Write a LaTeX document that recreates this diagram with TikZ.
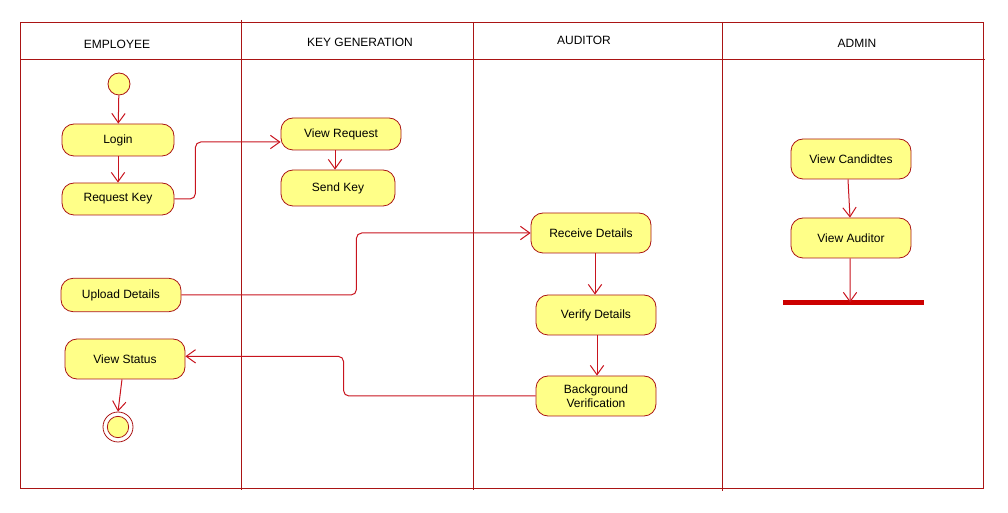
\documentclass[tikz,border=0pt]{standalone}
\usepackage{fontspec}
\setmainfont{Liberation Sans}
\usetikzlibrary{arrows.meta}
\definecolor{lanec}{RGB}{170,20,20}
\definecolor{linec}{RGB}{200,20,30}
\definecolor{yf}{RGB}{255,255,136}
\definecolor{barc}{RGB}{204,0,0}
\tikzset{
  act/.style={rectangle, rounded corners=9pt, draw=lanec, fill=yf, line width=0.6pt,
    font=\fontsize{9}{10.5}\selectfont, inner sep=0pt, align=center,
    minimum width=90pt, minimum height=30pt},
  arr/.style={draw=linec, line width=0.75pt, -{Straight Barb[length=7pt,width=10pt]}},
  lane/.style={draw=lanec, line width=0.7pt},
  hdr/.style={font=\fontsize{9}{10.5}\selectfont}
}
\begin{document}
\begin{tikzpicture}[x=0.75pt,y=-0.75pt]
\useasboundingbox (0,0) rectangle (1008,513);
% swimlanes
\draw[lane] (20,22) rectangle (983,488);
\draw[lane] (20,59) -- (985,59);
\draw[lane] (241,20) -- (241,490);
\draw[lane] (473,22) -- (473,490);
\draw[lane] (722,22) -- (722,491);
\node[hdr] (h1) at (117,44) {EMPLOYEE};
\node[hdr] (h2) at (360,42) {KEY GENERATION};
\node[hdr] (h3) at (584,40) {AUDITOR};
\node[hdr] (h4) at (857,43) {ADMIN};
% employee
\node[circle, draw=lanec, fill=yf, line width=0.6pt, minimum size=16.5pt, inner sep=0pt] (start) at (119,84) {};
\node[act, minimum width=84pt, minimum height=24pt] (login) at (118,140) {Login};
\node[act, minimum width=84pt, minimum height=24pt] (rk) at (118,199) {Request Key};
\node[act, minimum height=25pt] (ud) at (121,295) {Upload Details};
\node[act] (vs) at (125,359) {View Status};
\node[circle, draw=lanec, line width=0.6pt, minimum size=22.5pt, inner sep=0pt] (end) at (118,427) {};
\node[circle, draw=lanec, fill=yf, line width=0.6pt, minimum size=16pt, inner sep=0pt] (endin) at (118,427) {};
% key generation
\node[act, minimum height=24pt] (vr) at (341,134) {View Request};
\node[act, minimum width=85.5pt, minimum height=27pt] (sk) at (338,188) {Send Key};
% auditor
\node[act] (rd) at (591,233) {Receive Details};
\node[act] (vd) at (596,315) {Verify Details};
\node[act] (bv) at (596,396) {Background\\Verification};
% admin
\node[act] (vc) at (851,159) {View Candidtes};
\node[act] (va) at (851,238) {View Auditor};
\node[fill=barc, minimum width=105.75pt, minimum height=4pt, inner sep=0pt] (bar) at (853.5,302.5) {};
% connectors
\draw[arr] (start) -- (login);
\draw[arr] (login) -- (rk);
\draw[arr, rounded corners=4pt] (rk.east) -- ++(21,0) |- ([yshift=-6pt]vr.west);
\draw[arr] ([xshift=-4.5pt]vr.south) -- ([xshift=-2.25pt]sk.north);
\draw[arr, rounded corners=4pt] (ud.east) -- ++(175,0) |- (rd.west);
\draw[arr, rounded corners=4pt] (bv.west) -- ++(-192,0) |- ([yshift=2pt]vs.east);
\draw[arr] ([xshift=-2.25pt]vs.south) -- (end.north);
\draw[arr] ([xshift=3pt]rd.south) -- ([xshift=-0.75pt]vd.north);
\draw[arr] ([xshift=0.75pt]vd.south) -- ([xshift=0.75pt]bv.north);
\draw[arr] ([xshift=-2.25pt]vc.south) -- ([xshift=-0.75pt]va.north);
\draw[arr] ([xshift=-0.75pt]va.south) -- ([xshift=-2.6pt]bar.center);
\end{tikzpicture}
\end{document}
